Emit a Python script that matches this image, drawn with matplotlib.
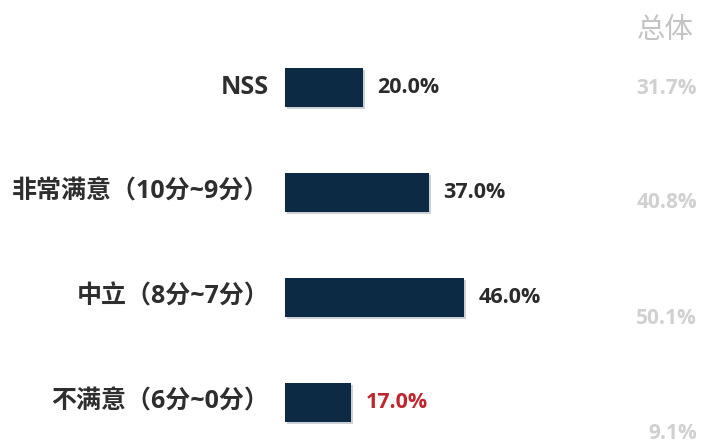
import matplotlib
matplotlib.use("Agg")
import matplotlib.pyplot as plt
import matplotlib.patheffects as pe

plt.rcParams['font.family'] = ['Open Sans', 'Noto Sans CJK SC', 'DejaVu Sans']

categories = ["NSS", "非常满意（10分~9分）", "中立（8分~7分）", "不满意（6分~0分）"]
values = [20.0, 37.0, 46.0, 17.0]
total_header = "总体"
total_values = [31.7, 40.8, 50.1, 9.1]
value_colors = ["#2b2b2b", "#2b2b2b", "#2b2b2b", "#c0262d"]

W, H = 702, 445
fig = plt.figure(figsize=(W / 100, H / 100), dpi=100)
fig.patch.set_facecolor("white")

px_per_unit = 3.9
x0 = 285
ax = fig.add_axes([0, 0, 1, 1])
ax.set_xlim(-x0 / px_per_unit, (W - x0) / px_per_unit)
row_h = 105
top = 87
ax.set_ylim((H - top) / row_h, -top / row_h)
ax.axis("off")

ypos = list(range(len(categories)))
bars = ax.barh(ypos, values, height=39 / row_h, color="#0d2a45", zorder=2)
for b in bars:
    b.set_path_effects([pe.SimplePatchShadow(offset=(1.5, -1.5), shadow_rgbFace="#9aa3ad", alpha=0.5), pe.Normal()])

label_x = -(x0 - 269) / px_per_unit
for y, cat in zip(ypos, categories):
    ax.text(label_x, y, cat, ha="right", va="center", fontsize=18, fontweight="bold", color="#2e2e2e")
for y, v, c in zip(ypos, values, value_colors):
    ax.text(v + 14 / px_per_unit, y, f"{v:.1f}%", ha="left", va="center", fontsize=15.5, fontweight="bold", color=c)

# total column with its own vertical spacing
ax2 = fig.add_axes([0, 0, 1, 1])
ax2.set_xlim(0, W)
row2 = 115
top2 = 88
ax2.set_ylim((H - top2) / row2, -top2 / row2)
ax2.axis("off")
ax2.patch.set_alpha(0)
ax2.text(665, -58 / row2, total_header, ha="center", va="center", fontsize=20.5, color="#c4c4c4",
         family=['Noto Sans CJK SC', 'DejaVu Sans'])
for i, tv in enumerate(total_values):
    ax2.text(697, i, f"{tv:.1f}%", ha="right", va="center", fontsize=15, fontweight="bold", color="#d0d0d0")

fig.savefig("out.png", dpi=100, facecolor="white")
